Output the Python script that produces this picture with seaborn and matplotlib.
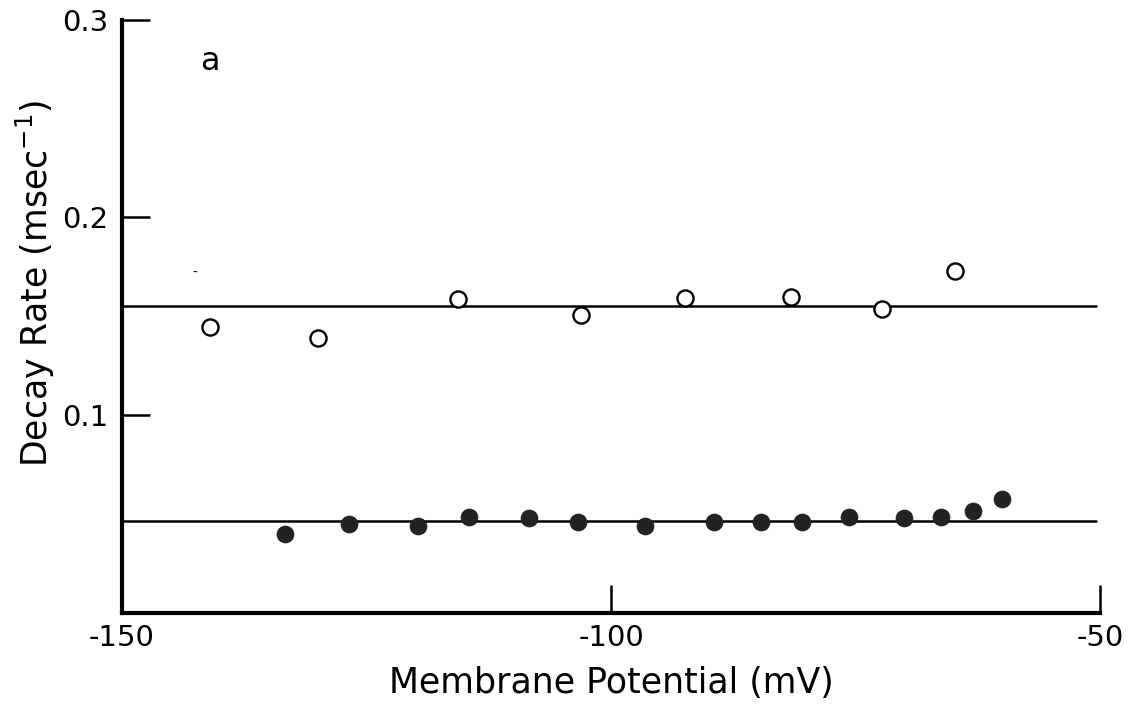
import numpy as np
import pandas as pd
import seaborn as sns
import matplotlib.pyplot as plt

# open circles (upper set)
open_mv = [-141.0, -129.9, -115.6, -103.1, -92.4, -81.6, -72.3, -64.9]
open_rate = [0.1444, 0.139, 0.1586, 0.1505, 0.159, 0.1596, 0.1535, 0.1727]

# filled circles (lower set)
filled_mv = [-133.3, -126.8, -119.7, -114.5, -108.4, -103.4, -96.5, -89.5,
             -84.7, -80.5, -75.7, -70.1, -66.3, -63.0, -60.1]
filled_rate = [0.0399, 0.045, 0.044, 0.0485, 0.048, 0.046, 0.044, 0.046,
               0.046, 0.046, 0.0485, 0.048, 0.0485, 0.0515, 0.0576]

# fitted horizontal lines
fit_mv = [-150, -50.5]
open_fit = [0.155, 0.155]
filled_fit = [0.0465, 0.0465]

sns.set_style("ticks")
plt.rcParams['font.family'] = ['DejaVu Sans']
plt.rcParams['text.color'] = 'black'
plt.rcParams['axes.labelcolor'] = 'black'
plt.rcParams['xtick.color'] = 'black'
plt.rcParams['ytick.color'] = 'black'
plt.rcParams['axes.edgecolor'] = 'black'

fig = plt.figure(figsize=(11.38, 7.06), dpi=100)
ax = fig.add_axes([0.107, 0.132, 0.86, 0.84])

sns.lineplot(x=fit_mv, y=open_fit, color='black', linewidth=1.8, ax=ax)
sns.lineplot(x=fit_mv, y=filled_fit, color='black', linewidth=1.8, ax=ax)

sns.scatterplot(x=open_mv, y=open_rate, marker='o', s=135, facecolor='white',
                edgecolor='black', linewidth=1.7, zorder=3, ax=ax)
sns.scatterplot(x=filled_mv, y=filled_rate, marker='o', s=150, color='#222222',
                edgecolor='#222222', linewidth=0.5, zorder=3, ax=ax)

ax.set_xlim(-150, -50)
ax.set_ylim(0, 0.3)
ax.set_xticks([-150, -100, -50])
ax.set_xticklabels(['-150', '-100', '-50'])
ax.set_yticks([0.1, 0.2, 0.3])
ax.set_yticklabels(['0.1', '0.2', '0.3'])
ax.tick_params(direction='in', length=20, width=1.8, labelsize=21, pad=8)
ax.tick_params(axis='y', pad=10)

sns.despine(ax=ax)
for side in ['left', 'bottom']:
    ax.spines[side].set_linewidth(3)

ax.set_xlabel('Membrane Potential (mV)', fontsize=25, labelpad=10)
ax.set_ylabel('Decay Rate (msec$^{-1}$)', fontsize=25, labelpad=2)
ax.yaxis.set_label_coords(-0.066, 0.555)

ax.text(-141, 0.279, 'a', fontsize=23, ha='center', va='center')
ax.text(-142.5, 0.172, '-', fontsize=10, ha='center', va='center')

fig.savefig('out.png', dpi=100)
